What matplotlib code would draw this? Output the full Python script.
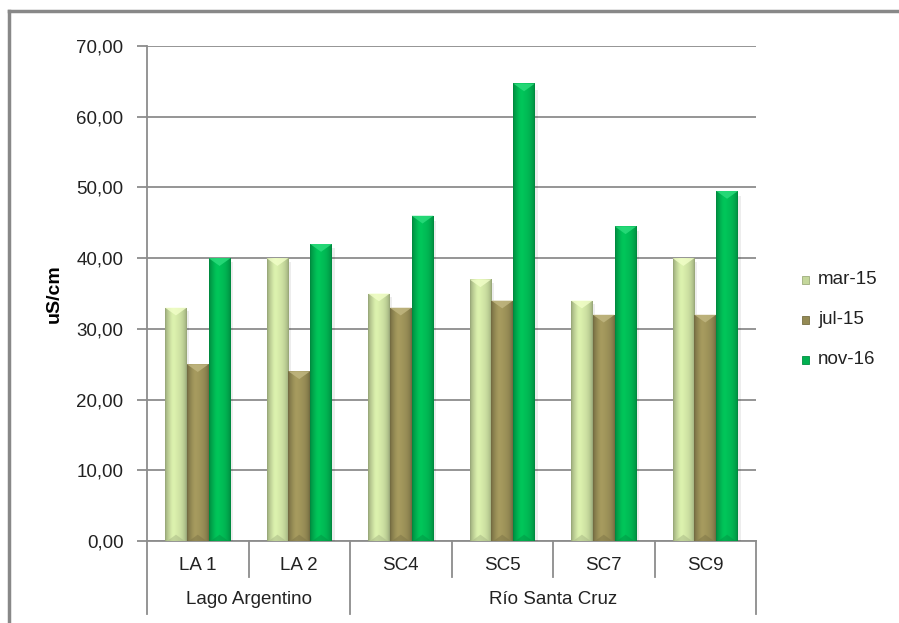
import numpy as np
import matplotlib
matplotlib.use("Agg")
import matplotlib.pyplot as plt
from matplotlib.patches import Polygon, Rectangle
from matplotlib.lines import Line2D
from matplotlib.ticker import FuncFormatter, MultipleLocator
import matplotlib.colors as mcolors

# ---- data ----
sites = ["LA 1", "LA 2", "SC4", "SC5", "SC7", "SC9"]
groups = ["Lago Argentino", "Río Santa Cruz"]
group_sizes = [2, 4]
series = ["mar-15", "jul-15", "nov-16"]
mar15 = [33.0, 40.0, 35.0, 37.0, 34.0, 40.0]
jul15 = [25.0, 24.0, 33.0, 34.0, 32.0, 32.0]
nov16 = [40.0, 42.0, 46.0, 64.7, 44.5, 49.5]
values = [mar15, jul15, nov16]
colors = ["#C4D79B", "#948A54", "#00B050"]
ylabel = "uS/cm"

plt.rcParams['font.family'] = ['Liberation Sans', 'DejaVu Sans']
FS = 13.5

W, H = 899, 623
fig = plt.figure(figsize=(W / 100, H / 100), dpi=100)
ax = fig.add_axes([147 / W, 1 - 541 / H, (756 - 147) / W, (541 - 46) / H])

n = len(sites)
x = np.arange(n)
bw = 0.215
offsets = [-bw, 0, bw]

ax.set_xlim(-0.5, n - 0.5)
ax.set_ylim(0, 70)

def shade(base, t):
    rgb = np.array(mcolors.to_rgb(base))
    f = 0.74 + 0.34 * np.sin(np.pi * t) ** 0.6
    f = f + 0.06 * np.exp(-((t - 0.35) / 0.15) ** 2)
    out = np.clip(rgb[None, :] * f[:, None], 0, 1)
    return out

t = np.linspace(0, 1, 64)
for s, (vals, c, off) in enumerate(zip(values, colors, offsets)):
    bars = ax.bar(x + off, vals, width=bw, color=c, edgecolor="none", zorder=3)
    grad = shade(c, t)[None, :, :]
    for b in bars:
        x0, w, h = b.get_x(), b.get_width(), b.get_height()
        im = ax.imshow(grad, extent=[x0, x0 + w, 0, h], aspect='auto',
                       interpolation='bilinear', zorder=3.1)
        im.set_clip_path(b)
        # top bevel
        th = 1.1
        light = np.clip(np.array(mcolors.to_rgb(c)) * 1.0 + 0.18, 0, 1)
        ax.add_patch(Polygon([[x0, h], [x0 + w, h], [x0 + w / 2, h - th]],
                             closed=True, facecolor=light, edgecolor='none',
                             alpha=0.8, zorder=3.2))
        # bottom bevel
        dark = np.clip(np.array(mcolors.to_rgb(c)) * 0.85, 0, 1)
        ax.add_patch(Polygon([[x0 + 0.1 * w, 0], [x0 + 0.9 * w, 0], [x0 + w / 2, 0.9]],
                             closed=True, facecolor=dark, edgecolor='none',
                             alpha=0.5, zorder=3.2))
        # soft shadow
        ax.add_patch(Rectangle((x0 + w, 0), w * 0.12, h * 0.985,
                               facecolor='#000000', alpha=0.07, edgecolor='none', zorder=2.9))

ax.set_aspect('auto')
ax.set_xlim(-0.5, n - 0.5)
ax.set_ylim(0, 70)

# grid
ax.yaxis.set_major_locator(MultipleLocator(10))
ax.grid(axis='y', color='#8c8c8c', linewidth=1.3, zorder=1)
ax.set_axisbelow(True)
ax.yaxis.set_major_formatter(FuncFormatter(lambda v, p: f"{v:.2f}".replace('.', ',')))
ax.tick_params(axis='y', length=7, width=1.3, color='#8c8c8c', labelsize=FS,
               labelcolor='#222222', pad=10)
ax.tick_params(axis='x', length=0, labelbottom=False)

for sp in ['top', 'right']:
    ax.spines[sp].set_visible(False)
for sp in ['left', 'bottom']:
    ax.spines[sp].set_color('#8c8c8c')
    ax.spines[sp].set_linewidth(1.3)

ax.set_ylabel(ylabel, fontsize=14, fontweight='bold', labelpad=8)
ax.yaxis.set_label_coords(-(147 - 63) / 609, 0.5)

# multi-level x axis
axh = 541 - 46
trans = ax.get_xaxis_transform()
for i, s in enumerate(sites):
    ax.text(i, -24 / axh, s, transform=trans, ha='center', va='center',
            fontsize=FS, color='#222222')
bounds = np.concatenate([[0], np.cumsum(group_sizes)])
for i in range(1, n):
    if i in bounds:
        continue
    ax.add_line(Line2D([i - 0.5, i - 0.5], [0, -36 / axh], transform=trans,
                       color='#8c8c8c', lw=1.3, clip_on=False))
for bnd in bounds:
    ax.add_line(Line2D([bnd - 0.5, bnd - 0.5], [0, -73 / axh], transform=trans,
                       color='#8c8c8c', lw=1.3, clip_on=False))
for g, (a, b) in enumerate(zip(bounds[:-1], bounds[1:])):
    ax.text((a + b - 1) / 2, -59 / axh, groups[g], transform=trans, ha='center',
            va='center', fontsize=FS, color='#222222')

# legend (manual)
for k, (name, c) in enumerate(zip(series, colors)):
    yc = 280 + 40 * k
    fig.patches.append(Rectangle((802 / W, 1 - (yc + 4) / H), 7 / W, 8 / H,
                                 transform=fig.transFigure, facecolor=c,
                                 edgecolor=np.clip(np.array(mcolors.to_rgb(c)) * 0.8, 0, 1),
                                 lw=0.6))
    fig.text(818 / W, 1 - yc / H, name, ha='left', va='center', fontsize=FS,
             color='#222222')

# outer frame
fig.add_artist(Line2D([9 / W, 1.0], [1 - 11 / H, 1 - 11 / H], transform=fig.transFigure,
                      color='#888888', lw=2.5))
fig.add_artist(Line2D([9 / W, 9 / W], [0, 1 - 11 / H], transform=fig.transFigure,
                      color='#888888', lw=2.5))

fig.savefig("out.png", dpi=100)
